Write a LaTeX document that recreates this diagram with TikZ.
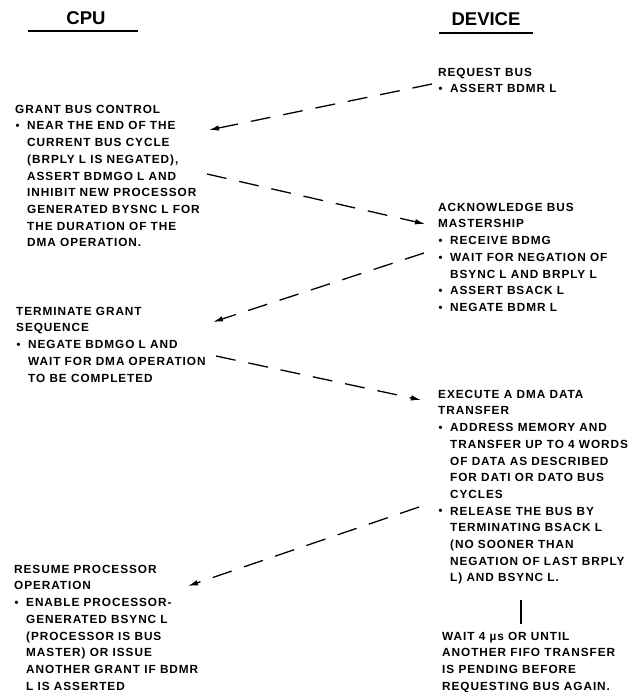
\documentclass[tikz,border=0pt]{standalone}
\usepackage{fontspec}
\usepackage{graphicx}
\setmainfont{Liberation Sans}
\newfontfamily\bodyfont{Liberation Sans}[LetterSpace=8]
\newfontfamily\headfont{Liberation Sans}
\usetikzlibrary{arrows.meta}
\newcommand{\bl}{\makebox[12pt][l]{\hspace{0.3pt}\raisebox{0.2pt}{\scalebox{0.95}{•}}}}
\newcommand{\ind}{\hspace*{12pt}}
\tikzset{
  blk/.style={anchor=north west, inner sep=0pt, align=left,
    font=\bodyfont\bfseries\fontsize{11.8}{16.7}\selectfont},
  hdr/.style={inner sep=0pt, font=\headfont\bfseries\fontsize{18.5}{20}\selectfont},
  uline/.style={line width=1.6pt},
  flow/.style={line width=1.3pt, dash pattern=on 20pt off 13pt,
    -{Latex[length=10pt,width=5.5pt]}},
  bar/.style={line width=1.3pt}
}
\begin{document}
\begin{tikzpicture}[x=1pt,y=-1pt]
\useasboundingbox (0,0) rectangle (628,692);
% headers
\node[hdr] (cpu) at (86,18) {CPU};
\node[hdr] (dev) at (486,19) {DEVICE};
\coordinate (cpuL) at (28,31);
\coordinate (cpuR) at (138,31);
\coordinate (devL) at (439,33);
\coordinate (devR) at (533,33);
\draw[uline] (cpuL) -- (cpuR);
\draw[uline] (devL) -- (devR);
% blocks
\node[blk] (req) at (438,67.8) {REQUEST BUS\\ \bl ASSERT BDMR L};
\node[blk] (grant) at (15,104.8) {GRANT BUS CONTROL\\
 \bl NEAR THE END OF THE\\
 \ind CURRENT BUS CYCLE\\
 \ind (BRPLY L IS NEGATED),\\
 \ind ASSERT BDMGO L AND\\
 \ind INHIBIT NEW PROCESSOR\\
 \ind GENERATED BYSNC L FOR\\
 \ind THE DURATION OF THE\\
 \ind DMA OPERATION.};
\node[blk] (ack) at (438,202.8) {ACKNOWLEDGE BUS\\
 MASTERSHIP\\
 \bl RECEIVE BDMG\\
 \bl WAIT FOR NEGATION OF\\
 \ind BSYNC L AND BRPLY L\\
 \bl ASSERT BSACK L\\
 \bl NEGATE BDMR L};
\node[blk] (term) at (16,306.8) {TERMINATE GRANT\\
 SEQUENCE\\
 \bl NEGATE BDMGO L AND\\
 \ind WAIT FOR DMA OPERATION\\
 \ind TO BE COMPLETED};
\node[blk] (exec) at (438,389.8) {EXECUTE A DMA DATA\\
 TRANSFER\\
 \bl ADDRESS MEMORY AND\\
 \ind TRANSFER UP TO 4 WORDS\\
 \ind OF DATA AS DESCRIBED\\
 \ind FOR DATI OR DATO BUS\\
 \ind CYCLES\\
 \bl RELEASE THE BUS BY\\
 \ind TERMINATING BSACK L\\
 \ind (NO SOONER THAN\\
 \ind NEGATION OF LAST BRPLY\\
 \ind L) AND BSYNC L.};
\node[blk] (resume) at (14,564.8) {RESUME PROCESSOR\\
 OPERATION\\
 \bl ENABLE PROCESSOR-\\
 \ind GENERATED BSYNC L\\
 \ind (PROCESSOR IS BUS\\
 \ind MASTER) OR ISSUE\\
 \ind ANOTHER GRANT IF BDMR\\
 \ind L IS ASSERTED};
\node[blk] (wait) at (442,631.8) {WAIT 4 µs OR UNTIL\\
 ANOTHER FIFO TRANSFER\\
 IS PENDING BEFORE\\
 REQUESTING BUS AGAIN.};
% connector end points
\coordinate (a1s) at (432,84);
\coordinate (a1e) at (209,130);
\coordinate (a2s) at (207,174);
\coordinate (a2e) at (425,224);
\coordinate (a3s) at (424,253);
\coordinate (a3e) at (213,322);
\coordinate (a4s) at (216,356);
\coordinate (a4e) at (421,400);
\coordinate (a5s) at (419,507);
\coordinate (a5e) at (188,586);
\coordinate (bt) at (521,600);
\coordinate (bb) at (521,624);
\draw[flow] (a1s) -- (a1e);
\draw[flow] (a2s) -- (a2e);
\draw[flow] (a3s) -- (a3e);
\draw[flow] (a4s) -- (a4e);
\draw[flow] (a5s) -- (a5e);
\draw[bar] (bt) -- (bb);
\end{tikzpicture}
\end{document}
